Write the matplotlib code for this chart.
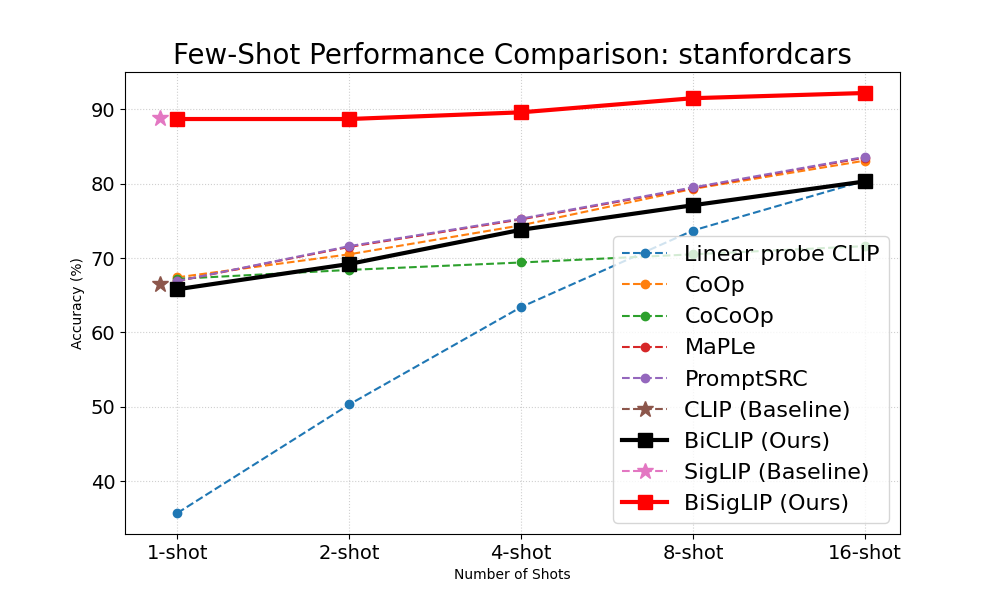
import numpy as np
import matplotlib
matplotlib.use("Agg")
import matplotlib.pyplot as plt

shots = ['1-shot', '2-shot', '4-shot', '8-shot', '16-shot']
linear_probe = [35.7, 50.3, 63.4, 73.7, 80.4]
coop = [67.4, 70.5, 74.4, 79.3, 83.1]
cocoop = [67.2, 68.4, 69.4, 70.5, 71.6]
maple = [66.9, 71.5, 75.2, 79.4, 83.5]
promptsrc = [66.9, 71.6, 75.3, 79.5, 83.6]
clip_baseline = 66.5
biclip = [65.8, 69.2, 73.8, 77.1, 80.3]
siglip_baseline = 88.8
bisiglip = [88.7, 88.7, 89.6, 91.5, 92.2]

x = np.arange(len(shots))

fig, ax = plt.subplots(figsize=(10, 6), dpi=100)
ax.plot(x, linear_probe, 'o--', color='tab:blue', label='Linear probe CLIP')
ax.plot(x, coop, 'o--', color='tab:orange', label='CoOp')
ax.plot(x, cocoop, 'o--', color='tab:green', label='CoCoOp')
ax.plot(x, maple, 'o--', color='tab:red', label='MaPLe')
ax.plot(x, promptsrc, 'o--', color='tab:purple', label='PromptSRC')
ax.plot([-0.1], [clip_baseline], '*--', color='tab:brown', markersize=12, label='CLIP (Baseline)')
ax.plot(x, biclip, 's-', color='black', linewidth=3, markersize=10, label='BiCLIP (Ours)')
ax.plot([-0.1], [siglip_baseline], '*--', color='tab:pink', markersize=12, label='SigLIP (Baseline)')
ax.plot(x, bisiglip, 's-', color='red', linewidth=3, markersize=10, label='BiSigLIP (Ours)')

ax.set_xticks(x)
ax.set_xticklabels(shots, fontsize=14)
ax.tick_params(axis='y', labelsize=14)
ax.set_xlabel('Number of Shots')
ax.set_ylabel('Accuracy (%)')
ax.set_title('Few-Shot Performance Comparison: stanfordcars', fontsize=20)
ax.grid(True, linestyle=':', alpha=0.6)
ax.legend(fontsize=16, loc='lower right')
plt.savefig('out.png', dpi=100)
